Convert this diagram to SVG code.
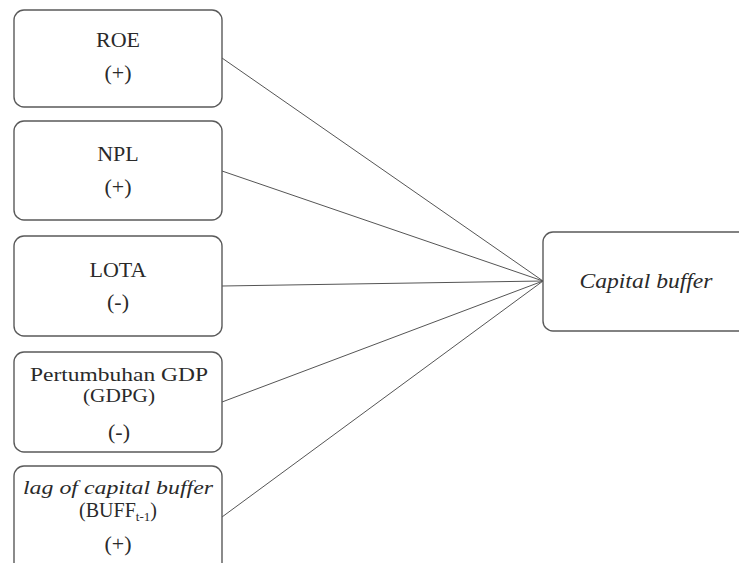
<svg xmlns="http://www.w3.org/2000/svg" width="739" height="563" viewBox="0 0 739 563">
<style>
.box{fill:#fff;stroke:#5a5a5a;stroke-width:1.4}
.t{font-family:'Liberation Serif',Tinos,'DejaVu Serif',serif;font-size:22px;fill:#2a2a2a;text-anchor:middle}
.s{font-size:18px}
.i{font-style:italic}
.c{stroke:#555;stroke-width:1;fill:none}
</style>
<rect width="739" height="563" fill="#fff"/>
<g id="connectors">
<line class="c" x1="222" y1="58" x2="543" y2="281"/>
<line class="c" x1="222" y1="171" x2="543" y2="281"/>
<line class="c" x1="222" y1="286" x2="543" y2="281"/>
<line class="c" x1="222" y1="402" x2="543" y2="281"/>
<line class="c" x1="222" y1="517" x2="543" y2="281"/>
</g>
<g id="roe">
<rect class="box" x="14" y="10" width="208" height="97" rx="10"/>
<text class="t" x="118" y="47">ROE</text>
<text class="t" x="118" y="80">(+)</text>
</g>
<g id="npl">
<rect class="box" x="14" y="121" width="208" height="99" rx="10"/>
<text class="t" x="118" y="161">NPL</text>
<text class="t" x="118" y="194">(+)</text>
</g>
<g id="lota">
<rect class="box" x="14" y="236" width="208" height="100" rx="10"/>
<text class="t" x="118" y="277">LOTA</text>
<text class="t" x="118" y="309">(-)</text>
</g>
<g id="gdpg">
<rect class="box" x="14" y="352" width="208" height="100" rx="10"/>
<text class="t s" x="119" y="381" textLength="178" lengthAdjust="spacingAndGlyphs">Pertumbuhan GDP</text>
<text class="t s" x="119" y="402" textLength="72" lengthAdjust="spacingAndGlyphs">(GDPG)</text>
<text class="t" x="119" y="439">(-)</text>
</g>
<g id="buff">
<rect class="box" x="14" y="466" width="208" height="110" rx="10"/>
<text class="t i s" x="118" y="494" textLength="190" lengthAdjust="spacingAndGlyphs">lag of capital buffer</text>
<text class="t" x="118" y="517" style="font-size:20px">(BUFF<tspan style="font-size:13px" dy="4">t-1</tspan><tspan dy="-4">)</tspan></text>
<text class="t" x="118" y="551">(+)</text>
</g>
<g id="capital-buffer">
<rect class="box" x="543" y="232" width="210" height="99" rx="10"/>
<text class="t i" x="646" y="288" textLength="133" lengthAdjust="spacingAndGlyphs">Capital buffer</text>
</g>
</svg>
